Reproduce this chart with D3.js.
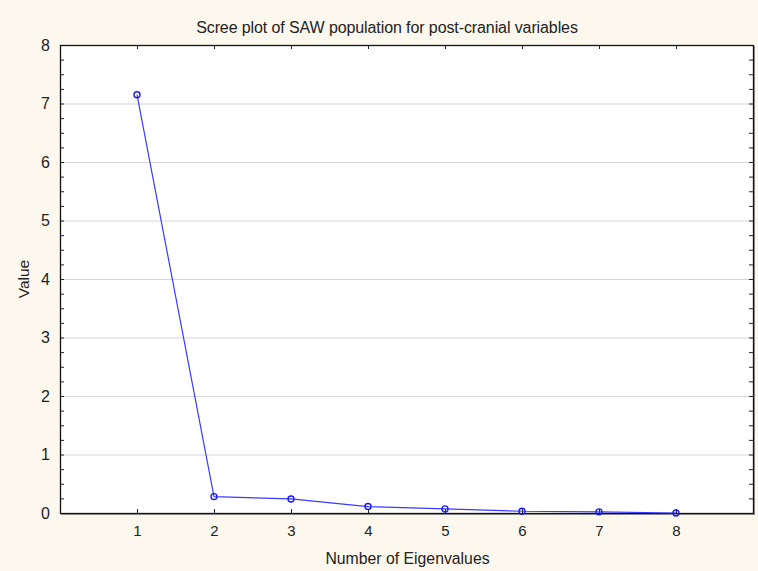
<!DOCTYPE html>
<html>
<head>
<meta charset="utf-8">
<script src="https://cdn.jsdelivr.net/npm/d3@7"></script>
<style>
  html, body { margin: 0; padding: 0; background: #fdf8ed; }
  svg text { font-family: "Liberation Sans", Arial, sans-serif; fill: #222; }
</style>
</head>
<body>
<div id="chart"></div>
<script>
const TITLE = "Scree plot of SAW population for post-cranial variables";
const X_LABEL = "Number of Eigenvalues";
const Y_LABEL = "Value";
const EIGEN_NUMBERS = [1, 2, 3, 4, 5, 6, 7, 8];
const EIGEN_VALUES = [7.15, 0.28, 0.24, 0.11, 0.07, 0.03, 0.02, 0.0];
const X_TICKS = [1, 2, 3, 4, 5, 6, 7, 8];
const Y_TICKS = [0, 1, 2, 3, 4, 5, 6, 7, 8];

const SVG_WIDTH = 758;
const SVG_HEIGHT = 571;
const X_LEFT = 60, X_RIGHT = 753, Y_TOP = 45, Y_BOTTOM = 513;
const LINE_COLOR = "#3a3aff";

const svg = d3.select("#chart")
  .append("svg")
  .attr("width", SVG_WIDTH)
  .attr("height", SVG_HEIGHT);

svg.append("rect")
  .attr("width", SVG_WIDTH)
  .attr("height", SVG_HEIGHT)
  .attr("fill", "#fdf8ed");

const xScale = d3.scaleLinear().domain([0, 9]).range([X_LEFT, X_RIGHT]);
const yScale = d3.scaleLinear().domain([0, 8]).range([Y_BOTTOM, Y_TOP]);

// plot area
svg.append("rect")
  .attr("x", X_LEFT).attr("y", Y_TOP)
  .attr("width", X_RIGHT - X_LEFT).attr("height", Y_BOTTOM - Y_TOP)
  .attr("fill", "#ffffff");

// grid lines
svg.append("g")
  .selectAll("line")
  .data(Y_TICKS.filter(d => d > 0 && d < 8))
  .join("line")
  .attr("x1", X_LEFT).attr("x2", X_RIGHT)
  .attr("y1", d => yScale(d) + 0.5).attr("y2", d => yScale(d) + 0.5)
  .attr("stroke", "#d6d6d6")
  .attr("stroke-width", 1);

// minor ticks on the y axes (0.25 steps)
const minorY = d3.range(0, 8.01, 0.25);

function styleAxis(g) {
  g.select(".domain").remove();
  g.selectAll(".tick line").attr("stroke", "#222");
}

// left axis, ticks inward
svg.append("g")
  .attr("transform", `translate(${X_LEFT},0)`)
  .call(d3.axisRight(yScale).tickValues(minorY).tickSize(4).tickFormat(""))
  .call(styleAxis);
svg.append("g")
  .attr("transform", `translate(${X_LEFT},0)`)
  .call(d3.axisLeft(yScale).tickValues(Y_TICKS).tickSize(0).tickPadding(10).tickFormat(d3.format("d")))
  .call(g => g.select(".domain").remove())
  .call(g => g.selectAll("text").style("font-size", "16px"));

// right axis, ticks inward
svg.append("g")
  .attr("transform", `translate(${X_RIGHT},0)`)
  .call(d3.axisLeft(yScale).tickValues(minorY).tickSize(4).tickFormat(""))
  .call(styleAxis);

// bottom axis, ticks inward
svg.append("g")
  .attr("transform", `translate(0,${Y_BOTTOM})`)
  .call(d3.axisTop(xScale).tickValues(X_TICKS).tickSize(4).tickFormat(""))
  .call(styleAxis);
svg.append("g")
  .attr("transform", `translate(0,${Y_BOTTOM})`)
  .call(d3.axisBottom(xScale).tickValues(X_TICKS).tickSize(0).tickPadding(12).tickFormat(d3.format("d")))
  .call(g => g.select(".domain").remove())
  .call(g => g.selectAll("text").style("font-size", "15px"));

// top axis, ticks inward
svg.append("g")
  .attr("transform", `translate(0,${Y_TOP})`)
  .call(d3.axisBottom(xScale).tickValues(X_TICKS).tickSize(4).tickFormat(""))
  .call(styleAxis);

// frame
svg.append("rect")
  .attr("x", X_LEFT + 0.5).attr("y", Y_TOP + 0.5)
  .attr("width", X_RIGHT - X_LEFT).attr("height", Y_BOTTOM - Y_TOP)
  .attr("fill", "none")
  .attr("stroke", "#111")
  .attr("stroke-width", 1.3);
svg.append("line")
  .attr("x1", X_RIGHT + 1.5).attr("x2", X_RIGHT + 1.5)
  .attr("y1", Y_TOP + 1).attr("y2", Y_BOTTOM + 2)
  .attr("stroke", "#888").attr("stroke-width", 1);
svg.append("line")
  .attr("x1", X_LEFT + 1).attr("x2", X_RIGHT + 2)
  .attr("y1", Y_BOTTOM + 1.5).attr("y2", Y_BOTTOM + 1.5)
  .attr("stroke", "#888").attr("stroke-width", 1);

// data line
const points = EIGEN_NUMBERS.map((n, i) => ({ n: n, v: EIGEN_VALUES[i] }));
const line = d3.line()
  .x(d => xScale(d.n))
  .y(d => yScale(d.v));

svg.append("path")
  .datum(points)
  .attr("fill", "none")
  .attr("stroke", LINE_COLOR)
  .attr("stroke-width", 1.2)
  .attr("d", line);

svg.append("g")
  .selectAll("circle")
  .data(points)
  .join("circle")
  .attr("cx", d => xScale(d.n))
  .attr("cy", d => yScale(d.v))
  .attr("r", 3)
  .attr("fill", "none")
  .attr("stroke", "#1a1aff")
  .attr("stroke-width", 1.4);

// titles
svg.append("text")
  .attr("x", 387)
  .attr("y", 33)
  .attr("text-anchor", "middle")
  .style("font-size", "16px")
  .style("letter-spacing", "-0.1px")
  .text(TITLE);

svg.append("text")
  .attr("x", (X_LEFT + X_RIGHT) / 2 + 1)
  .attr("y", 564)
  .attr("text-anchor", "middle")
  .style("font-size", "15.8px")
  .text(X_LABEL);

svg.append("text")
  .attr("transform", `translate(29,${(Y_TOP + Y_BOTTOM) / 2}) rotate(-90)`)
  .attr("text-anchor", "middle")
  .style("font-size", "15.5px")
  .text(Y_LABEL);
</script>
</body>
</html>
